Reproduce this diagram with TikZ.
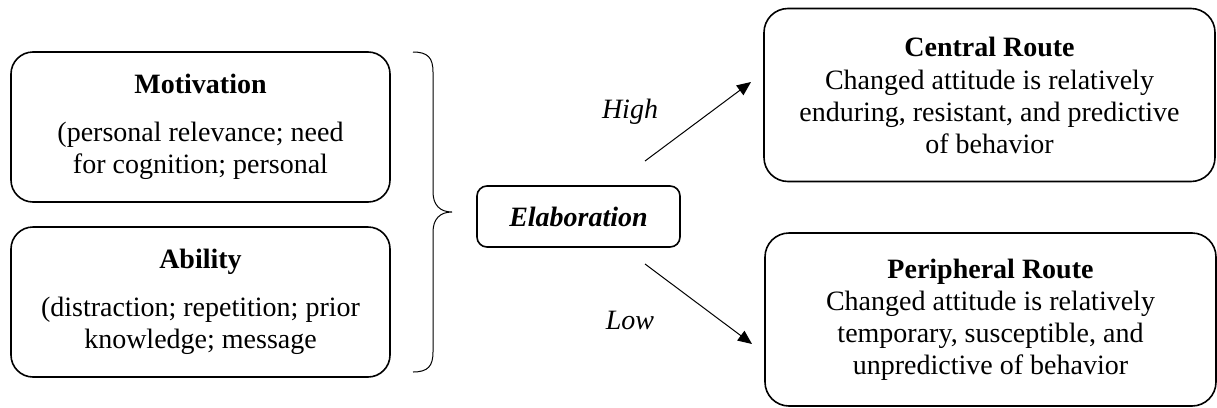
\documentclass[tikz,border=0pt]{standalone}
\usepackage{fontspec}
\setmainfont{Liberation Serif}
\usetikzlibrary{arrows.meta}
\begin{document}
\begin{tikzpicture}[x=1pt,y=-1pt,
  every node/.style={font=\fontsize{28}{32}\selectfont},
  factorbox/.style={draw, line width=1.6pt, rounded corners=22pt, align=center,
    minimum width=379pt, minimum height=150pt, inner sep=0pt},
  routebox/.style={draw, line width=1.6pt, rounded corners=24pt, align=center,
    minimum width=451pt, minimum height=173pt, inner sep=0pt},
  elabbox/.style={draw, line width=1.6pt, rounded corners=10pt,
    minimum width=203pt, minimum height=61pt, inner sep=0pt},
  routearrow/.style={line width=1pt, -{Triangle[length=14pt,width=12pt]}},
  routelabel/.style={font=\fontsize{28}{32}\selectfont\itshape}
]
\useasboundingbox (0,0) rectangle (1217,407);

% input factors
\node[factorbox] (mot) at (200.5,127)
  {{\bfseries Motivation}\\[16pt](personal relevance; need\\for cognition; personal};
\node[factorbox] (abl) at (200.5,302)
  {{\bfseries Ability}\\[16pt](distraction; repetition; prior\\knowledge; message};

% brace joining both factors
\draw[line width=1pt] (413,52) .. controls (428,52) and (433,58) .. (433,72)
  -- (433,192) .. controls (433,205) and (440,212) .. (452,212)
  .. controls (440,212) and (433,219) .. (433,232)
  -- (433,352) .. controls (433,366) and (428,372) .. (413,372);

% elaboration
\node[elabbox] (elab) at (578.5,216.5) {\bfseries\itshape Elaboration};

% outcomes
\node[routebox] (central) at (989.5,95)
  {{\bfseries Central Route}\\[1pt]Changed attitude is relatively\\enduring, resistant, and predictive\\of behavior};
\node[routebox] (periph) at (990.5,319.5)
  {{\bfseries Peripheral Route}\\Changed attitude is relatively\\temporary, susceptible, and\\unpredictive of behavior};

% arrows
\coordinate (hs) at (645,161);
\coordinate (he) at (751,82);
\coordinate (ls) at (645,264);
\coordinate (le) at (752,344);
\draw[routearrow] (hs) -- (he);
\draw[routearrow] (ls) -- (le);
\node[routelabel] (high) at (630,112) {High};
\node[routelabel] (low) at (630,320) {Low};
\end{tikzpicture}
\end{document}
